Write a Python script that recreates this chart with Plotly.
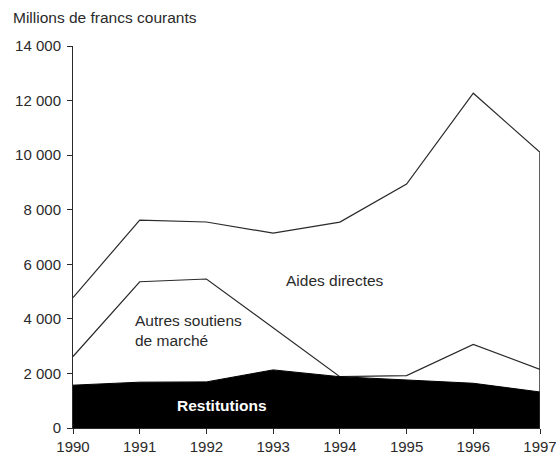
import plotly.graph_objects as go

# Aides à l'agriculture, millions de francs courants
years = [1990, 1991, 1992, 1993, 1994, 1995, 1996, 1997]
restitutions = [1570, 1680, 1690, 2130, 1880, 1760, 1640, 1320]
# cumul restitutions + autres soutiens de marché
autres_cumul = [2620, 5360, 5460, 3680, 1880, 1920, 3060, 2150]
# cumul total (avec aides directes)
total = [4780, 7620, 7550, 7140, 7545, 8940, 12270, 10100]

font = "Liberation Sans, Arial, sans-serif"
ink = "#2a2a2a"

fig = go.Figure()

# total : bord supérieur
fig.add_trace(go.Scatter(x=years, y=total, mode="lines", fill="tozeroy",
                         fillcolor="white", line=dict(color=ink, width=1.2)))
# autres soutiens de marché
fig.add_trace(go.Scatter(x=years, y=autres_cumul, mode="lines",
                         line=dict(color=ink, width=1.2)))
# restitutions (zone noire)
fig.add_trace(go.Scatter(x=years, y=restitutions, mode="lines", fill="tozeroy",
                         fillcolor="black", line=dict(color="black", width=1)))

# bord droit de la zone
fig.add_shape(type="line", x0=years[-1], x1=years[-1], y0=0, y1=total[-1],
              line=dict(color=ink, width=1.5))

fig.add_annotation(x=1993.93, y=5420, text="Aides directes", showarrow=False,
                   font=dict(size=15.5, color=ink, family=font))
fig.add_annotation(x=1990.9, y=3570, text="Autres soutiens<br>de marché",
                   showarrow=False, xanchor="left", align="left",
                   font=dict(size=15.5, color=ink, family=font))
fig.add_annotation(x=1992.23, y=840, text="<b>Restitutions</b>", showarrow=False,
                   font=dict(size=15.5, color="white", family=font))
fig.add_annotation(x=0, xref="paper", xanchor="left", xshift=-62,
                   y=1, yref="paper", yanchor="bottom", yshift=18,
                   text="Millions de francs courants", showarrow=False,
                   font=dict(size=15.5, color=ink, family=font))

fig.update_layout(
    width=556, height=460,
    margin=dict(l=73, r=16, t=46, b=32),
    paper_bgcolor="white", plot_bgcolor="white",
    showlegend=False,
    font=dict(family=font, size=15, color=ink),
    xaxis=dict(range=[1990, 1997], tickvals=years, showgrid=False,
               zeroline=False, showline=True, linecolor=ink, linewidth=1,
               ticks="outside", ticklen=5, tickcolor=ink, automargin=False,
               ticklabeloverflow="allow"),
    yaxis=dict(range=[0, 14000], tickvals=list(range(0, 14001, 2000)),
               ticktext=["0", "2 000", "4 000", "6 000", "8 000", "10 000",
                         "12 000", "14 000"],
               showgrid=False, zeroline=False, showline=True,
               linecolor=ink, linewidth=1, ticks="outside", ticklen=5,
               tickcolor=ink, automargin=False, ticklabelstandoff=3),
)

# pas de marge de page autour du graphique, pas de barre d'outils
fig.write_html("out.html", config={"displayModeBar": False},
               post_script="document.body.style.margin='0';")
